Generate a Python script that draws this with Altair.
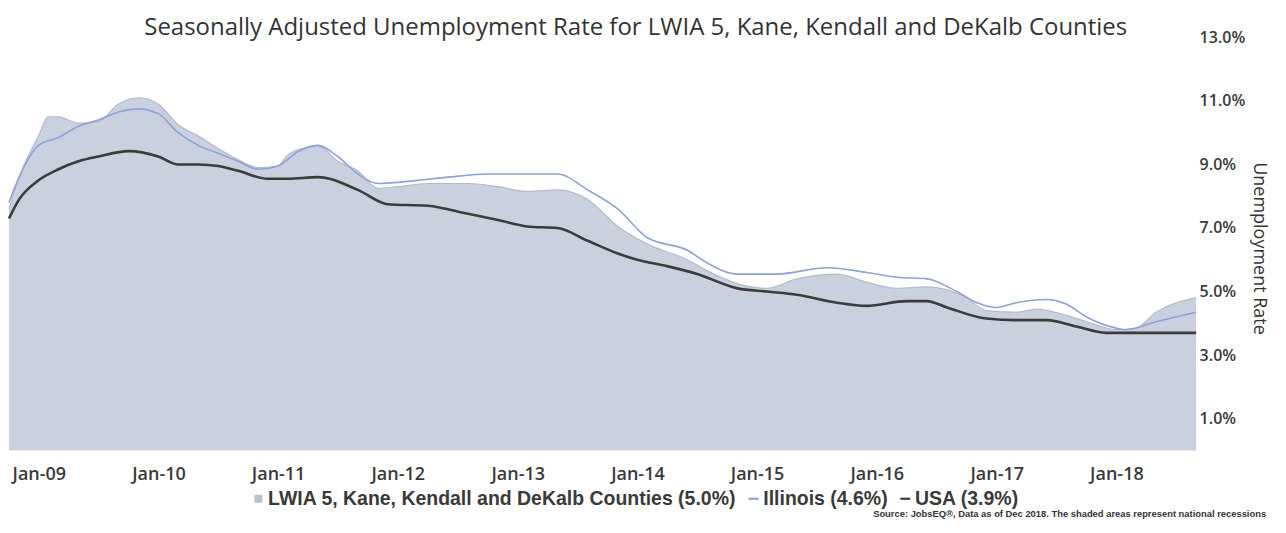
import altair as alt
import pandas as pd

SERIES = [
    "LWIA 5, Kane, Kendall and DeKalb Counties (5.0%)",
    "Illinois (4.6%)",
    "USA (3.9%)",
]
SERIES_COLORS = ["#b9c1d0", "#8ea1d8", "#3b3b3b"]

# month index: 0 = Jan 2009 ... 119 = Dec 2018
lwia_month = [0, 1, 3, 4, 5, 6, 7, 9, 11, 13, 15, 17, 19, 21, 23, 25, 27, 28, 30, 31,
              33, 35, 37, 39, 42, 46, 49, 52, 55, 58, 61, 64, 68, 70, 73, 76, 79, 83,
              86, 89, 92, 96, 98, 101, 103, 106, 108, 111, 113, 115, 119]
lwia_rate = [7.6, 8.6, 9.9, 10.5, 10.5, 10.4, 10.3, 10.35, 10.9, 11.1, 10.9, 10.25, 9.9,
             9.5, 9.15, 8.9, 8.95, 9.3, 9.55, 9.6, 9.1, 8.8, 8.25, 8.3, 8.4, 8.4, 8.3,
             8.15, 8.2, 7.9, 7.05, 6.5, 6.0, 5.65, 5.25, 5.1, 5.4, 5.55, 5.3, 5.1, 5.15,
             4.8, 4.4, 4.35, 4.45, 4.25, 4.05, 3.8, 3.85, 4.35, 4.8]

il_month = [0, 1, 3, 5, 7, 9, 11, 13, 15, 17, 19, 21, 23, 25, 27, 29, 31, 33, 35, 37,
            41, 44, 48, 52, 55, 58, 61, 64, 68, 70, 73, 77, 82, 86, 89, 92, 95, 97,
            99, 101, 104, 106, 108, 111, 112, 115, 119]
il_rate = [7.8, 8.6, 9.6, 9.85, 10.2, 10.4, 10.65, 10.75, 10.6, 10.0, 9.6, 9.35, 9.1,
           8.85, 8.95, 9.4, 9.6, 9.25, 8.7, 8.4, 8.5, 8.6, 8.7, 8.7, 8.7, 8.2, 7.6, 6.7,
           6.3, 5.9, 5.55, 5.55, 5.75, 5.6, 5.45, 5.4, 5.0, 4.65, 4.5, 4.65, 4.75, 4.6,
           4.2, 3.85, 3.8, 4.05, 4.35]

usa_month = [0, 1, 3, 5, 7, 9, 12, 15, 17, 19, 21, 23, 26, 28, 31, 35, 38, 42, 46,
             49, 52, 55, 58, 61, 63, 66, 69, 73, 76, 79, 83, 86, 90, 92, 94, 98, 101,
             104, 107, 110, 119]
usa_rate = [7.3, 7.9, 8.5, 8.85, 9.1, 9.25, 9.42, 9.25, 9.0, 9.0, 8.95, 8.8, 8.55,
            8.55, 8.6, 8.2, 7.75, 7.7, 7.45, 7.25, 7.05, 7.0, 6.6, 6.2, 6.0, 5.8, 5.55,
            5.1, 5.0, 4.9, 4.65, 4.55, 4.7, 4.7, 4.5, 4.15, 4.1, 4.1, 3.9, 3.7, 3.7]

Y_TICKS = [1, 3, 5, 7, 9, 11, 13]

TITLE = "Seasonally Adjusted Unemployment Rate for LWIA 5, Kane, Kendall and DeKalb Counties"
SOURCE = "Source: JobsEQ\u00ae, Data as of Dec 2018. The shaded areas represent national recessions"


def to_date(m):
    return f"{2009 + m // 12}-{m % 12 + 1:02d}-01T00:00:00"


rows = []
for name, months, rates in [(SERIES[0], lwia_month, lwia_rate),
                            (SERIES[1], il_month, il_rate),
                            (SERIES[2], usa_month, usa_rate)]:
    for m, v in zip(months, rates):
        rows.append({"date": to_date(m), "rate": v, "series": name})
df = pd.DataFrame(rows)

x_enc = alt.X(
    "date:T",
    scale=alt.Scale(domain=[alt.DateTime(year=2009, month=1, date=1),
                            alt.DateTime(year=2018, month=12, date=1)], nice=False),
    axis=alt.Axis(
        format="%b-%y",
        tickCount={"interval": "year", "step": 1},
        labelAlign="left",
        labelOffset=3,
        labelPadding=7,
        labelFont="Open Sans",
        labelFontWeight=600,
        labelFontSize=18,
        labelColor="#3a3a3a",
        labelOverlap=False,
        labelFlush=False,
        labelBound=False,
        ticks=False,
        domain=False,
        grid=False,
        title=SOURCE,
        titleFont="Liberation Sans",
        titleFontWeight="bold",
        titleFontSize=9.4,
        titleColor="#333333",
        titleAlign="left",
        titleBaseline="middle",
        titleX=865,
        titleY=55,
    ),
)
y_enc = alt.Y(
    "rate:Q",
    scale=alt.Scale(domain=[-0.26, 13], nice=False, zero=False),
    axis=alt.Axis(
        orient="right",
        values=Y_TICKS,
        labelExpr="format(datum.value, '.1f') + '%'",
        labelFont="Open Sans",
        labelFontWeight=600,
        labelFontSize=16,
        labelColor="#3a3a3a",
        labelPadding=3,
        ticks=False,
        domain=False,
        grid=False,
        title="Unemployment Rate",
        titleFont="Open Sans",
        titleFontWeight="normal",
        titleFontSize=18,
        titleColor="#333333",
        titleAngle=90,
        titlePadding=5,
    ),
)

base = alt.Chart(df).encode(x=x_enc, y=y_enc)

area = base.transform_filter(alt.datum.series == SERIES[0]).mark_area(
    interpolate="monotone",
    color="#cad1de",
    opacity=1,
    line=alt.OverlayMarkDef(color="#b3bbcb", strokeWidth=1.2),
)
il_line = base.transform_filter(alt.datum.series == SERIES[1]).mark_line(
    interpolate="monotone", color=SERIES_COLORS[1], strokeWidth=1.6
)
usa_line = base.transform_filter(alt.datum.series == SERIES[2]).mark_line(
    interpolate="monotone", color=SERIES_COLORS[2], strokeWidth=2.6
)

SQUARE = "M-0.8,-0.8H0.8V0.8H-0.8Z"
DASH = "M-1,-0.22H1V0.22H-1Z"

legend_params = dict(
    orient="none",
    legendX=240,
    legendY=452,
    direction="horizontal",
    title=None,
    labelFont="Liberation Sans",
    labelFontWeight="bold",
    labelFontSize=19.5,
    labelColor="#3a3a3a",
    labelLimit=900,
    labelOffset=0,
    symbolSize=100,
    symbolStrokeWidth=0,
    symbolOpacity=1,
    columnPadding=7,
    padding=0,
)

legend_layer = base.transform_filter("datum.rate < -50").mark_point(filled=True).encode(
    color=alt.Color("series:N", scale=alt.Scale(domain=SERIES, range=SERIES_COLORS),
                    legend=alt.Legend(**legend_params)),
    shape=alt.Shape("series:N", scale=alt.Scale(domain=SERIES, range=[SQUARE, DASH, DASH]),
                    legend=alt.Legend(**legend_params)),
)

chart = alt.layer(area, il_line, usa_line, legend_layer).properties(
    width=1189,
    height=422,
    padding={"left": -5, "top": 8, "right": 10, "bottom": 2},
    background="white",
    title=alt.TitleParams(
        TITLE,
        font="Open Sans",
        fontSize=24,
        fontWeight="normal",
        color="#333333",
        anchor="middle",
        frame="bounds",
        offset=-11,
    ),
).configure_view(stroke=None)

chart.save("out.html", embed_options={"renderer": "svg", "actions": False})
